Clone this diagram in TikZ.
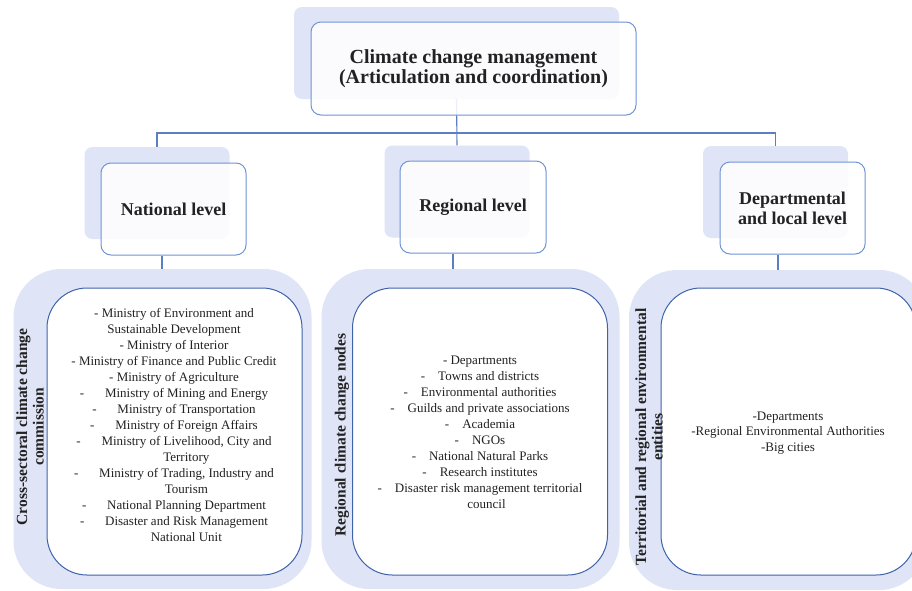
\documentclass[tikz,border=0pt]{standalone}
\usepackage{fontspec}
\setmainfont{Liberation Serif}
\definecolor{shadeblue}{HTML}{DFE5F7}
\definecolor{boxline}{HTML}{7093D6}
\definecolor{listline}{HTML}{3F63A9}
\definecolor{linkline}{HTML}{5B7FC3}
\definecolor{ink}{HTML}{222222}

\begin{document}
\begin{tikzpicture}[x=1pt,y=-1pt,
  shadebox/.style={fill=shadeblue,rounded corners=8,inner sep=0},
  levelbox/.style={draw=boxline,line width=1pt,fill=white,fill opacity=0.88,text opacity=1,
    rounded corners=10,text=ink,font=\bfseries\fontsize{18}{20}\selectfont,align=center,inner sep=0},
  bigshade/.style={fill=shadeblue,rounded corners=48,inner sep=0,minimum width=298,minimum height=320},
  listbox/.style={draw=listline,line width=1pt,fill=white,rounded corners=40,inner sep=0,
    minimum width=255,minimum height=287},
  listtext/.style={text=ink,font=\fontsize{13}{16}\selectfont,align=center},
  sidelabel/.style={rotate=90,text=ink,font=\bfseries\fontsize{15.5}{16.5}\selectfont,align=center},
  link/.style={draw=linkline,line width=1.1pt}]
		\path[fill=white,use as bounding box] (0,0) rectangle (912,590);
		% shadows
		\node[shadebox,minimum width=325,minimum height=92] (topsh) at (456.5,53) {};
		\node[shadebox,minimum width=145,minimum height=92] (natsh) at (157,193) {};
		\node[shadebox,minimum width=145,minimum height=92] (regsh) at (457,191.5) {};
		\node[shadebox,minimum width=145,minimum height=92] (depsh) at (775.5,192) {};
		\node[bigshade] (natbigsh) at (162.5,429) {};
		\node[bigshade] (regbigsh) at (470.5,429) {};
		\node[bigshade] (depbigsh) at (778,430) {};
		% upper connectors
		\coordinate (bus) at (456.5,133);
		\draw[link] (natsh.north) |- (bus) -| (depsh.north);
		\draw[link] (topsh.south) -- (regsh.north);
		% boxes
		\node[levelbox,minimum width=325,minimum height=93,font=\bfseries\fontsize{20}{20}\selectfont] (top) at (473.5,68.5) {Climate change management\\(Articulation and coordination)};
		\node[levelbox,minimum width=145,minimum height=92] (nat) at (173.5,209) {National level};
		\node[levelbox,minimum width=146,minimum height=92] (reg) at (473,207) {Regional level};
		\node[levelbox,minimum width=145,minimum height=92] (dep) at (792.5,208) {Departmental\\and local level};
		\node[listbox] (natlist) at (174.5,431.5) {};
		\node[listbox] (reglist) at (480,431.5) {};
		\node[listbox] (deplist) at (788.5,431.5) {};
		% lower connectors
		\coordinate (natdrop) at (162,0);
		\coordinate (regdrop) at (453,0);
		\coordinate (depdrop) at (778,0);
		\draw[link] (natdrop |- nat.south) -- (natdrop |- natbigsh.north);
		\draw[link] (regdrop |- reg.south) -- (regdrop |- regbigsh.north);
		\draw[link] (depdrop |- dep.south) -- (depdrop |- depbigsh.north);
		% lists
		\node[listtext] (natitems) at (174,425) {- Ministry of Environment and\\Sustainable Development\\- Ministry of Interior\\- Ministry of Finance and Public Credit\\- Ministry of Agriculture\\-\hspace{1.6em}Ministry of Mining and Energy\\-\hspace{1.6em}Ministry of Transportation\\-\hspace{1.6em}Ministry of Foreign Affairs\\-\hspace{1.6em}Ministry of Livelihood, City and\\\hspace*{1.9em}Territory\\-\hspace{1.6em}Ministry of Trading, Industry and\\\hspace*{1.9em}Tourism\\-\hspace{1.6em}National Planning Department\\-\hspace{1.6em}Disaster and Risk Management\\\hspace*{1.9em}National Unit};
		\node[listtext] (regitems) at (480,432) {- Departments\\-\hspace{1em}Towns and districts\\-\hspace{1em}Environmental authorities\\-\hspace{1em}Guilds and private associations\\-\hspace{1em}Academia\\-\hspace{1em}NGOs\\-\hspace{1em}National Natural Parks\\-\hspace{1em}Research institutes\\-\hspace{1em}Disaster risk management territorial\\\hspace*{1em}council};
		\node[listtext,font=\fontsize{13}{15.5}\selectfont] (depitems) at (788,433) {-Departments\\-Regional Environmental Authorities\\-Big cities};
		% side labels
		\node[sidelabel] (natlabel) at (30,427) {Cross-sectoral climate change\\commission};
		\node[sidelabel] (reglabel) at (342,435) {Regional climate change nodes};
		\node[sidelabel] (deplabel) at (649,437) {Territorial and regional environmental\\entities};
		\end{tikzpicture}
\end{document}
